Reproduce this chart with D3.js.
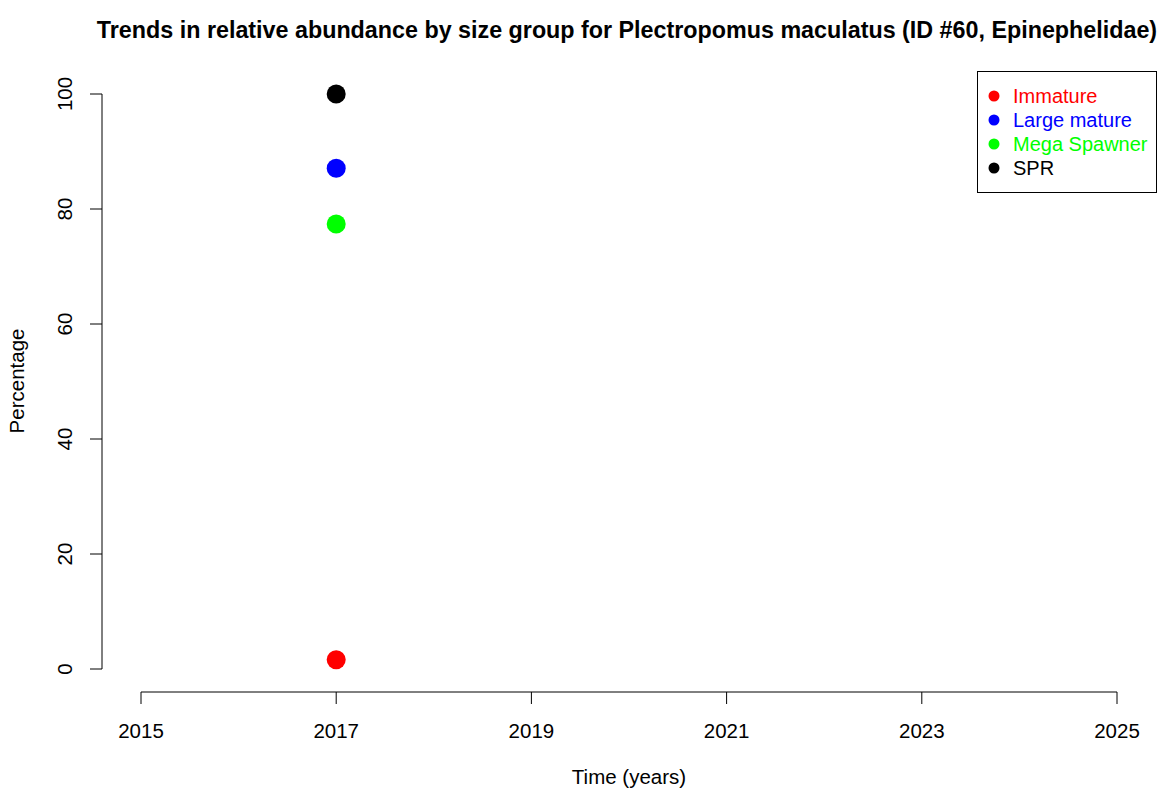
<!DOCTYPE html>
<html>
<head>
<meta charset="utf-8">
<script src="https://cdn.jsdelivr.net/npm/d3@7"></script>
<style>
  body { margin: 0; background: #fff; }
  svg { display: block; font-family: "Liberation Sans", Arial, sans-serif; }
</style>
</head>
<body>
<svg id="chart" width="1171" height="789"></svg>
<script>
// Size groups and their relative abundance (%) by survey year
const groups = ["Immature", "Large mature", "Mega Spawner", "SPR"];
const groupColors = ["#ff0000", "#0000ff", "#00ff00", "#000000"];
const years = [2017];
const immature = [1.6];
const largeMature = [87.1];
const megaSpawner = [77.4];
const spr = [100];
const xTicks = [2015, 2017, 2019, 2021, 2023, 2025];
const yTicks = [0, 20, 40, 60, 80, 100];

const seriesValues = [immature, largeMature, megaSpawner, spr];
const fs = 20.5;

const svg = d3.select("#chart");

// Plot region (R-style 4% padding around the data range)
const x = d3.scaleLinear().domain([2015, 2025]).range([141, 1117]);
const y = d3.scaleLinear().domain([0, 100]).range([669, 94]);
const plotLeft = 102, plotBottom = 692;

// Title
svg.append("text")
  .attr("x", 627).attr("y", 38)
  .attr("text-anchor", "middle")
  .attr("font-weight", "bold")
  .attr("font-size", 23.3)
  .text("Trends in relative abundance by size group for Plectropomus maculatus (ID #60, Epinephelidae)");

// X axis
const xAxis = svg.append("g").attr("transform", `translate(0,${plotBottom})`);
xAxis.append("line")
  .attr("x1", x(xTicks[0])).attr("x2", x(xTicks[xTicks.length - 1]))
  .attr("stroke", "#000");
xTicks.forEach(t => {
  xAxis.append("line")
    .attr("x1", x(t)).attr("x2", x(t)).attr("y1", 0).attr("y2", 12)
    .attr("stroke", "#000");
  xAxis.append("text")
    .attr("x", x(t)).attr("y", 45.5)
    .attr("text-anchor", "middle")
    .attr("font-size", fs)
    .text(t);
});

// Y axis
const yAxis = svg.append("g").attr("transform", `translate(${plotLeft},0)`);
yAxis.append("line")
  .attr("y1", y(yTicks[0])).attr("y2", y(yTicks[yTicks.length - 1]))
  .attr("stroke", "#000");
yTicks.forEach(t => {
  yAxis.append("line")
    .attr("x1", -12).attr("x2", 0).attr("y1", y(t)).attr("y2", y(t))
    .attr("stroke", "#000");
  yAxis.append("text")
    .attr("transform", `translate(-30,${y(t)}) rotate(-90)`)
    .attr("text-anchor", "middle")
    .attr("font-size", fs)
    .text(t);
});

// Axis titles
svg.append("text")
  .attr("x", 629).attr("y", 784)
  .attr("text-anchor", "middle")
  .attr("font-size", fs)
  .text("Time (years)");
svg.append("text")
  .attr("transform", `translate(24,381) rotate(-90)`)
  .attr("text-anchor", "middle")
  .attr("font-size", fs)
  .text("Percentage");

// Points
seriesValues.forEach((vals, i) => {
  svg.append("g").selectAll("circle")
    .data(years.map((yr, j) => ({ yr, v: vals[j] })))
    .join("circle")
    .attr("cx", d => x(d.yr))
    .attr("cy", d => y(d.v))
    .attr("r", 9.5)
    .attr("fill", groupColors[i]);
});

// Legend
const legend = svg.append("g").attr("transform", "translate(977,71)");
legend.append("rect")
  .attr("x", 0.5).attr("y", 0.5).attr("width", 179).attr("height", 121)
  .attr("fill", "#fff").attr("stroke", "#000");
groups.forEach((g, i) => {
  const cy = 25 + i * 24;
  legend.append("circle")
    .attr("cx", 17).attr("cy", cy).attr("r", 5.5)
    .attr("fill", groupColors[i]);
  legend.append("text")
    .attr("x", 36).attr("y", cy + 7)
    .attr("font-size", 20)
    .attr("fill", groupColors[i])
    .text(g);
});
</script>
</body>
</html>
